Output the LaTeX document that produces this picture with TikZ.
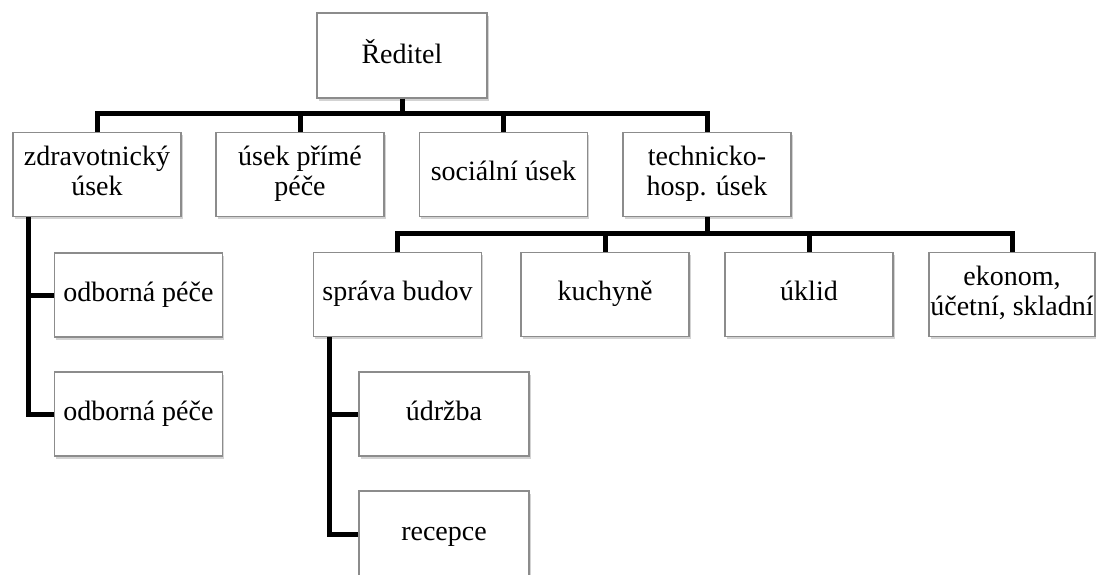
\documentclass[tikz,border=0pt]{standalone}
\usepackage{fontspec}
\setmainfont{Liberation Serif}
\usetikzlibrary{shadows}
\begin{document}
\begin{tikzpicture}[x=1pt,y=-1pt,
  box/.style={draw=black!45, line width=1.1pt, fill=white, minimum width=168pt, minimum height=84pt,
    inner sep=1pt, align=center, font=\fontsize{28}{30}\selectfont,
    drop shadow={opacity=0.35, shadow xshift=1.5pt, shadow yshift=-2.5pt}},
  conn/.style={line width=5pt, black}]
\useasboundingbox (0,0) rectangle (1096,574);
% level 0
\node[box, minimum width=170pt, minimum height=85pt] (red) at (402,55.5) {\strut Ředitel};
% level 1
\node[box] (zdr) at (97,174.5) {\strut zdravotnický\\\strut úsek};
\node[box] (pp) at (300,174.5) {\strut úsek přímé\\\strut péče};
\node[box] (soc) at (503.5,174.5) {\strut sociální úsek};
\node[box] (tech) at (707,174.5) {\strut technicko-\\\strut hosp. úsek};
% level 2 under zdr
\node[box] (odb1) at (138.5,295) {\strut odborná péče};
\node[box] (odb2) at (138.5,414) {\strut odborná péče};
% level 2 under tech
\node[box] (spr) at (397.5,294.5) {\strut správa budov};
\node[box] (kuch) at (605,294.5) {\strut kuchyně};
\node[box] (ukl) at (809,294.5) {\strut úklid};
\node[box, minimum width=166pt] (eko) at (1012,294.5) {\strut ekonom,\\\strut účetní, skladní};
% level 3
\node[box, minimum width=170pt] (udr) at (444,414) {\strut údržba};
\node[box, minimum width=170pt, minimum height=86pt] (rec) at (444,534) {\strut recepce};
% buses
\coordinate (bus1) at (0,113);
\coordinate (bus2) at (0,233);
\coordinate (zv) at (28,0);
\coordinate (sv) at (329,0);
% connectors level 1
\draw[conn] (zdr.north) -- (zdr.north |- bus1) -- (tech.north |- bus1) -- (tech.north);
\draw[conn] (red.south) -- (red.south |- bus1);
\draw[conn] (pp.north) -- (pp.north |- bus1);
\draw[conn] (soc.north) -- (soc.north |- bus1);
% zdr children
\draw[conn] (zv |- zdr.south) -- (zv |- odb2.west) -- (odb2.west);
\draw[conn] (zv |- odb1.west) -- (odb1.west);
% tech children
\draw[conn] (tech.south) -- (tech.south |- bus2);
\draw[conn] (spr.north) -- (spr.north |- bus2) -- (eko.north |- bus2) -- (eko.north);
\draw[conn] (kuch.north) -- (kuch.north |- bus2);
\draw[conn] (ukl.north) -- (ukl.north |- bus2);
% spr children
\draw[conn] (sv |- spr.south) -- (sv |- rec.west) -- (rec.west);
\draw[conn] (sv |- udr.west) -- (udr.west);
\end{tikzpicture}
\end{document}
